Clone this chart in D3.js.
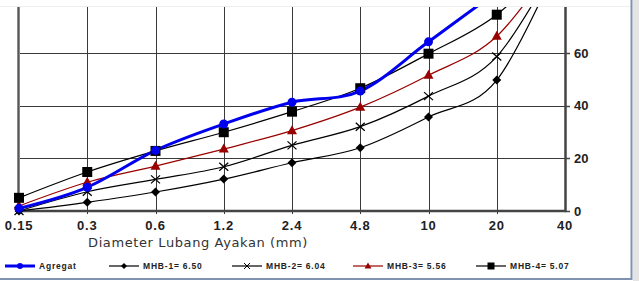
<!DOCTYPE html>
<html><head><meta charset="utf-8">
<script src="https://cdn.jsdelivr.net/npm/d3@7"></script>
<style>body{margin:0;background:#fff}svg{display:block}</style>
</head><body>
<script>
const categories = ["0.15","0.3","0.6","1.2","2.4","4.8","10","20","40"];
const agregat = [1, 9, 23, 33, 41.3, 45.5, 64.2, 83, 100];
const mhb1 = [0, 3.3, 7.2, 12.1, 18.3, 24, 35.7, 49.7, 100];
const mhb2 = [0, 7.3, 12, 16.8, 24.9, 32, 43.6, 58.6, 100];
const mhb3 = [1.9, 10.9, 17, 23.5, 30.5, 39.4, 51.5, 66.3, 100];
const mhb4 = [5, 14.8, 22.8, 29.9, 37.7, 46.6, 59.7, 74.5, 100];
const yTicks = [0, 20, 40, 60, 80, 100];
const legendLabels = ["Agregat","MHB-1= 6.50","MHB-2= 6.04","MHB-3= 5.56","MHB-4= 5.07"];
const xTitle = "Diameter Lubang Ayakan (mm)";

const W = 639, H = 281;
const svg = d3.select("body").append("svg").attr("width", W).attr("height", H);

// frame
svg.append("line").attr("x1",0).attr("x2",632).attr("y1",6.5).attr("y2",6.5).attr("stroke","#eeeeee");
svg.append("rect").attr("x",633).attr("y",0).attr("width",6).attr("height",H).attr("fill","#e4e4e4");
svg.append("line").attr("x1",631.5).attr("x2",631.5).attr("y1",0).attr("y2",280).attr("stroke","#7f93b0").attr("stroke-width",2);
svg.append("line").attr("x1",0).attr("x2",632).attr("y1",279).attr("y2",279).attr("stroke","#7f93b0").attr("stroke-width",2);

const x = d3.scalePoint().domain(categories).range([19, 565]);
const y = d3.scaleLinear().domain([0, 100]).range([211, 211 - 263.5]);

svg.append("defs").append("clipPath").attr("id","clip")
  .append("rect").attr("x",0).attr("y",7).attr("width",632).attr("height",215);

const g = svg.append("g").attr("clip-path","url(#clip)");

// grid
g.selectAll("line.hg").data(yTicks.filter(d=>d>0)).enter().append("line")
  .attr("x1",19).attr("x2",565).attr("y1",d=>Math.round(y(d))+0.5).attr("y2",d=>Math.round(y(d))+0.5)
  .attr("stroke","#3a3a3a").attr("stroke-width",1);
g.selectAll("line.vg").data(categories.slice(1,-1)).enter().append("line")
  .attr("x1",d=>Math.round(x(d))+0.5).attr("x2",d=>Math.round(x(d))+0.5).attr("y1",7).attr("y2",214)
  .attr("stroke","#3a3a3a").attr("stroke-width",1);

// axes lines
g.append("line").attr("x1",18.5).attr("x2",18.5).attr("y1",7).attr("y2",212).attr("stroke","#8a8a8a").attr("stroke-width",3);
g.append("line").attr("x1",18.5).attr("x2",18.5).attr("y1",7).attr("y2",212).attr("stroke","#555").attr("stroke-width",1);
g.append("line").attr("x1",565.5).attr("x2",565.5).attr("y1",7).attr("y2",212).attr("stroke","#444").attr("stroke-width",2.5);
g.append("line").attr("x1",18).attr("x2",566).attr("y1",211).attr("y2",211).attr("stroke","#444").attr("stroke-width",2.5);

// right axis ticks & labels
const rAxis = svg.append("g");
yTicks.filter(d=>y(d)>=7).forEach(d=>{
  rAxis.append("line").attr("x1",565).attr("x2",570).attr("y1",Math.round(y(d))+0.5).attr("y2",Math.round(y(d))+0.5).attr("stroke","#444").attr("stroke-width",1.5);
  rAxis.append("text").attr("x",574).attr("y",y(d)).attr("dy","0.36em")
    .attr("font-family","Arial, Liberation Sans, sans-serif").attr("font-weight","bold").attr("font-size",13)
    .attr("fill","#222").text(d);
});
// x tick labels
categories.forEach(c=>{
  svg.append("text").attr("x",x(c)).attr("y",230).attr("text-anchor","middle")
    .attr("font-family","Arial, Liberation Sans, sans-serif").attr("font-weight","bold").attr("font-size",13)
    .attr("letter-spacing","0.8px").attr("fill","#222").text(c);
});
svg.append("text").attr("x",198).attr("y",247).attr("text-anchor","middle")
  .attr("font-family","DejaVu Sans, sans-serif").attr("font-size",13).attr("letter-spacing","0.6px")
  .attr("fill","#333").text(xTitle);

// series
const seriesDefs = [
  {vals: agregat, color:"#0000ee", width:3, marker:"circle"},
  {vals: mhb1, color:"#000", width:1.2, marker:"diamond"},
  {vals: mhb2, color:"#000", width:1.2, marker:"x"},
  {vals: mhb3, color:"#990000", width:1.2, marker:"triangle"},
  {vals: mhb4, color:"#000", width:1.2, marker:"square"}
];
const line = d3.line().x((d,i)=>x(categories[i])).y(d=>y(d)).curve(d3.curveCardinal.tension(0));

function drawMarker(sel, type, cx, cy, color){
  if(type==="circle") sel.append("circle").attr("cx",cx).attr("cy",cy).attr("r",4.5).attr("fill",color);
  else if(type==="square") sel.append("rect").attr("x",cx-5).attr("y",cy-5).attr("width",10).attr("height",10).attr("fill","#000");
  else if(type==="diamond") sel.append("path").attr("d",`M${cx},${cy-4.5}L${cx+4.5},${cy}L${cx},${cy+4.5}L${cx-4.5},${cy}Z`).attr("fill","#000");
  else if(type==="triangle") sel.append("path").attr("d",`M${cx},${cy-5.5}L${cx+5},${cy+3.5}L${cx-5},${cy+3.5}Z`).attr("fill",color);
  else if(type==="x") sel.append("path").attr("d",`M${cx-4.5},${cy-4}L${cx+4.5},${cy+4}M${cx-4.5},${cy+4}L${cx+4.5},${cy-4}`).attr("stroke","#000").attr("stroke-width",1.3);
}

const order = [1,2,3,4,0];
order.forEach(si=>{
  const s = seriesDefs[si];
  g.append("path").attr("d",line(s.vals)).attr("fill","none").attr("stroke",s.color).attr("stroke-width",s.width);
});
order.forEach(si=>{
  const s = seriesDefs[si];
  s.vals.forEach((v,i)=>drawMarker(g, s.marker, x(categories[i]), y(v), s.color));
});

// legend
const legX = [5, 109, 232, 353, 476];
const legY = 266;
seriesDefs.forEach((s,i)=>{
  const lx = legX[i];
  svg.append("line").attr("x1",lx).attr("x2",lx+30).attr("y1",legY).attr("y2",legY).attr("stroke",s.color).attr("stroke-width",s.width===3?3:1.2);
  const mg = svg.append("g");
  if(s.marker==="circle") mg.append("circle").attr("cx",lx+15).attr("cy",legY).attr("r",3).attr("fill",s.color);
  else if(s.marker==="square") mg.append("rect").attr("x",lx+11.5).attr("y",legY-3.5).attr("width",7).attr("height",7).attr("fill","#000");
  else if(s.marker==="diamond") mg.append("path").attr("d",`M${lx+15},${legY-3}L${lx+18},${legY}L${lx+15},${legY+3}L${lx+12},${legY}Z`).attr("fill","#000");
  else if(s.marker==="triangle") mg.append("path").attr("d",`M${lx+15},${legY-3.5}L${lx+18.5},${legY+2.5}L${lx+11.5},${legY+2.5}Z`).attr("fill",s.color);
  else if(s.marker==="x") mg.append("path").attr("d",`M${lx+12},${legY-3}L${lx+18},${legY+3}M${lx+12},${legY+3}L${lx+18},${legY-3}`).attr("stroke","#000").attr("stroke-width",1);
  svg.append("text").attr("x",lx+34).attr("y",legY).attr("dy","0.35em")
    .attr("font-family","Arial, Liberation Sans, sans-serif").attr("font-weight","bold").attr("font-size",8.5)
    .attr("letter-spacing","0.8px").attr("fill","#222").text(legendLabels[i]);
});
</script>
</body></html>
